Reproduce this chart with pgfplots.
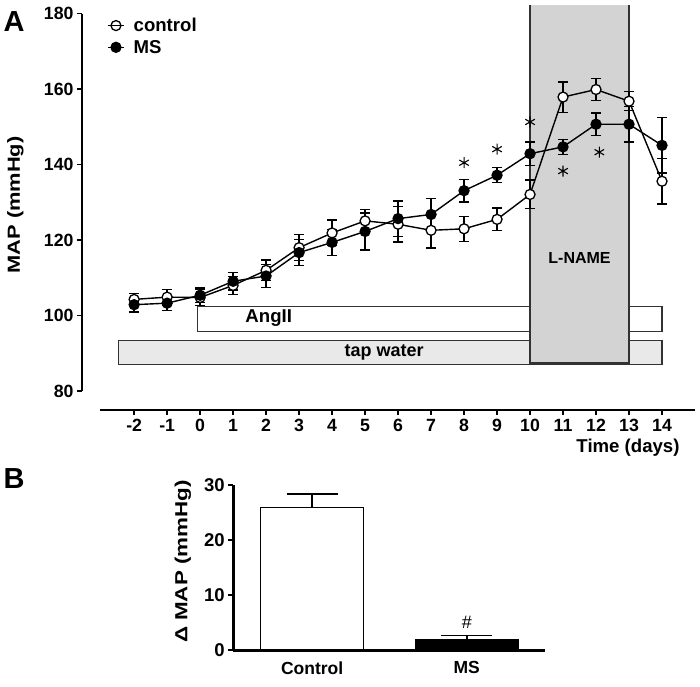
\documentclass[border=0pt]{standalone}
\usepackage{pgfplots}
\pgfplotsset{compat=1.18}
\usepackage{fontspec}
\setmainfont{Liberation Sans}
\usepackage{graphicx}
\definecolor{lname}{RGB}{211,211,211}
\definecolor{tapw}{RGB}{233,233,233}
\definecolor{boxline}{RGB}{50,50,50}
\newcommand{\fs}[1]{\fontsize{#1}{#1}\selectfont\bfseries}
\pgfplotstableread{
x y e
-2 104.3 1.5
-1 104.9 2.1
0 104.8 2.1
1 108.0 2.4
2 112.0 2.7
3 118.0 3.4
4 121.9 3.4
5 125.1 3.1
6 124.2 4.7
7 122.6 4.7
8 123.0 3.3
9 125.5 3.0
10 132.1 3.8
11 157.9 4.0
12 159.9 3.0
13 156.8 2.5
14 135.6 6.0
}\ctrl
\pgfplotstableread{
x y e
-2 102.9 1.9
-1 103.3 2.0
0 105.4 1.9
1 109.1 2.3
2 110.5 3.1
3 116.7 3.4
4 119.4 3.5
5 122.3 4.9
6 125.7 4.7
7 126.8 4.2
8 133.1 3.0
9 137.2 2.0
10 142.9 3.1
11 144.7 2.0
12 150.7 3.0
13 150.7 4.7
14 145.1 7.3
}\ms
\begin{document}
\begin{tikzpicture}
\begin{axis}[
  at={(82pt,276pt)}, anchor=south west,
  scale only axis, width=613pt, height=405.8pt,
  xmin=-3.58, xmax=15, ymin=75, ymax=182.5,
  axis x line*=bottom, axis y line*=left,
  axis line style={draw=none},
  xtick={-2,...,14}, xticklabels={-2,-1,0,1,2,3,4,5,6,7,8,9,10,11,12,13,14},
  ytick={80,100,120,140,160,180}, yticklabels={80,100,120,140,160,180},
  tick align=outside, major tick length=5pt,
  tick style={black, line width=1.5pt},
  xticklabel style={font=\fs{17.7}, yshift=-1pt},
  yticklabel style={font=\fs{17.7}},
  clip=false,
  legend cell align=left,
  legend style={at={(axis cs:-2.82,179.4)}, anchor=north west, draw=none, fill=none,
    font=\fs{18.6}, row sep=3pt, inner sep=0pt,
    /tikz/every odd column/.append style={column sep=7pt}},
  legend image code/.code={\draw[mark repeat=2, mark phase=2, #1] plot coordinates {(0pt,0pt) (8pt,0pt) (16pt,0pt)};
     \draw[line width=1.4pt] (0pt,0pt) -- (16pt,0pt);},
]
% treatment boxes
\draw[boxline, line width=1.3pt, fill=tapw] (axis cs:-2.47,87.0) rectangle (axis cs:14,93.4);
\draw[boxline, line width=1.3pt, fill=white] (axis cs:-0.07,95.8) rectangle (axis cs:14,102.4);
\node at (axis cs:2.08,99.3) {\fs{18.6}AngII};
\node at (axis cs:5.58,90.2) {\fs{18}tap water};
\fill[lname] (axis cs:10,87.4) rectangle (axis cs:13,182.2);
\draw[boxline, line width=2pt] (axis cs:10,182.2) -- (axis cs:10,87.4) -- (axis cs:13,87.4) -- (axis cs:13,182.2);
\node at (axis cs:11.5,115.2) {\fs{16}L-NAME};
% axis lines
\draw[black, line width=2.5pt] (axis cs:-3.58,80) -- (axis cs:-3.58,180);
\draw[black, line width=2.5pt] (axis cs:-3.03,75) -- (axis cs:15,75);
% data
\addplot[black, line width=1.4pt, mark=*, mark size=5pt,
  mark options={fill=white, draw=black, line width=1.3pt},
  error bars/.cd, y dir=both, y explicit,
  error bar style={line width=1.3pt, black},
  error mark options={rotate=90, mark size=5pt, line width=1.3pt, black}]
  table[x=x, y=y, y error=e] {\ctrl};
\addlegendentry{control}
\addplot[black, line width=1.4pt, mark=*, mark size=5pt,
  mark options={fill=black, draw=black, line width=1.3pt},
  error bars/.cd, y dir=both, y explicit,
  error bar style={line width=1.3pt, black},
  error mark options={rotate=90, mark size=5pt, line width=1.3pt, black}]
  table[x=x, y=y, y error=e] {\ms};
\addlegendentry{MS}
\addplot[forget plot, only marks, mark=asterisk, mark size=5.5pt, black, line width=1.1pt]
  coordinates {(8,140.5) (9,144.1) (10,151.3) (11,138.3) (12.1,143.3)};
\end{axis}
\begin{axis}[
  at={(233.3pt,36pt)}, anchor=south west,
  scale only axis, width=311.7pt, height=165pt,
  xmin=-0.51, xmax=1.506, ymin=0, ymax=30,
  axis x line*=bottom, axis y line*=left,
  axis line style={draw=none},
  xtick={0,1}, xticklabels={Control,MS}, xtick style={draw=none},
  ytick={0,10,20,30}, yticklabels={0,10,20,30},
  tick align=outside, major tick length=5pt,
  tick style={black, line width=1.5pt},
  xticklabel style={font=\fs{17.5}, yshift=-3pt},
  yticklabel style={font=\fs{18.5}},
  clip=false,
]
\addplot[ybar, bar width=103pt, bar shift=0pt, fill=white, draw=black, line width=1.3pt,
  error bars/.cd, y dir=plus, y explicit,
  error bar style={line width=1.5pt, black},
  error mark options={rotate=90, mark size=25.5pt, line width=1.5pt, black}]
  coordinates {(0,25.9) +- (0,2.5)};
\addplot[ybar, bar width=103pt, bar shift=0pt, fill=black, draw=black, line width=1.3pt,
  error bars/.cd, y dir=plus, y explicit,
  error bar style={line width=1.5pt, black},
  error mark options={rotate=90, mark size=25.5pt, line width=1.5pt, black}]
  coordinates {(1,1.94) +- (0,0.66)};
\node at (axis cs:1,5.0) {\fontsize{18}{18}\selectfont\#};
\draw[black, line width=3pt] (axis cs:-0.51,0) -- (axis cs:1.506,0);
\draw[black, line width=2.5pt] (axis cs:-0.51,0) -- (axis cs:-0.51,30);
\end{axis}
\node[rotate=90] at (15.5pt,481pt) {\fs{17.5}\scalebox{1.25}[1]{MAP (mmHg)}};
\node at (628pt,238pt) {\fs{18.6}Time (days)};
\node at (14pt,664pt) {\fs{29}A};
\node at (14pt,207pt) {\fs{29}B};
\node[rotate=90] at (183pt,124.5pt) {\fs{17.5}\scalebox{1.28}[1]{Δ MAP (mmHg)}};
\pgfresetboundingbox
\useasboundingbox (0pt,0pt) rectangle (700pt,686pt);
\end{tikzpicture}
\end{document}
